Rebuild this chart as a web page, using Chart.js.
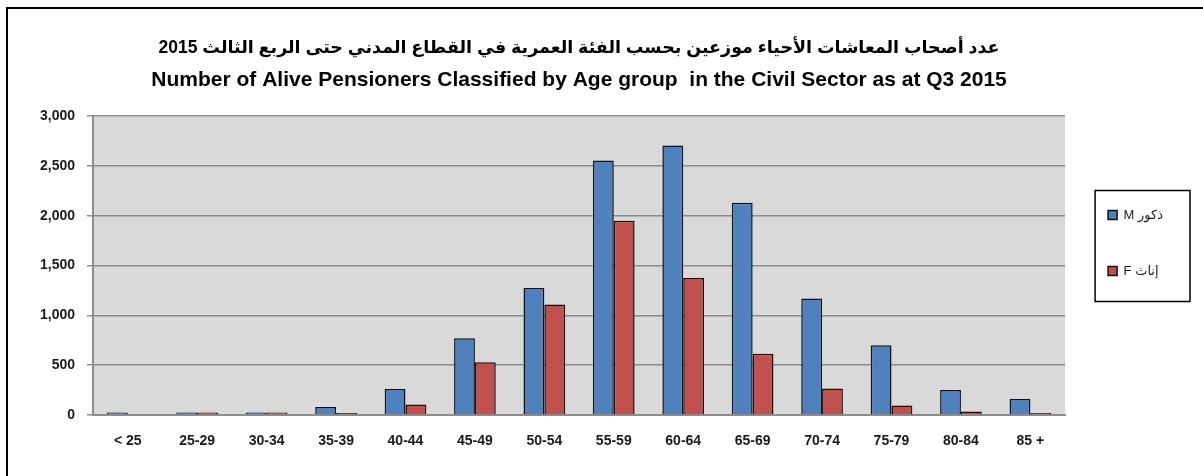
<!DOCTYPE html>
<html>
<head>
<meta charset="utf-8">
<script src="https://cdn.jsdelivr.net/npm/chart.js@4.4.1/dist/chart.umd.min.js"></script>
<style>
  html, body { margin: 0; padding: 0; background: #fff; overflow: hidden; }
  #frame {
    position: absolute; left: 6px; top: 7px;
    width: 1300px; height: 600px;
    border: 2px solid #000;
  }
  #wrap { position: absolute; left: 0; top: 0; width: 1203px; height: 476px; }
</style>
</head>
<body>
<div id="frame"></div>
<div id="wrap"><canvas id="barChart"></canvas></div>
<script>
// age groups (x axis)
const ageGroups = ['< 25', '25-29', '30-34', '35-39', '40-44', '45-49', '50-54',
  '55-59', '60-64', '65-69', '70-74', '75-79', '80-84', '85 +'];

// pensioners by gender
const maleValues = [25, 25, 25, 80, 260, 770, 1275, 2555, 2705, 2130, 1170, 700, 250, 160];
const femaleValues = [0, 25, 25, 20, 105, 530, 1110, 1950, 1375, 615, 265, 95, 35, 20];

const seriesLabels = ['M ذكور', 'F إناث'];
const titleArabic = 'عدد أصحاب المعاشات الأحياء موزعين بحسب الفئة العمرية في القطاع المدني حتى الربع الثالث 2015';
const titleEnglish = 'Number of Alive Pensioners Classified by Age group  in the Civil Sector as at Q3 2015';

// y axis range
const yMax = 3000;
const yStep = 500;

const fontFamily = '"Liberation Sans", "DejaVu Sans", Arial, sans-serif';

// grey plot background
const plotBackground = {
  id: 'plotBackground',
  beforeDraw(chart) {
    const { ctx, chartArea } = chart;
    ctx.save();
    ctx.fillStyle = '#d9d9d9';
    ctx.fillRect(chartArea.left, chartArea.top, chartArea.right - chartArea.left, chartArea.bottom - chartArea.top);
    ctx.restore();
  }
};

// frame around the legend
const legendFrame = {
  id: 'legendFrame',
  afterDraw(chart) {
    const boxes = chart.legend.legendHitBoxes;
    if (!boxes || boxes.length === 0) return;
    const left = Math.min(...boxes.map(b => b.left)) - 13;
    const right = Math.max(...boxes.map(b => b.left + b.width)) + 27;
    const top = Math.min(...boxes.map(b => b.top)) - 18;
    const bottom = Math.max(...boxes.map(b => b.top + b.height)) + 24;
    const ctx = chart.ctx;
    ctx.save();
    ctx.strokeStyle = '#000';
    ctx.lineWidth = 1.5;
    ctx.strokeRect(left, top, right - left, bottom - top);
    ctx.restore();
  }
};

const ctx = document.getElementById('barChart').getContext('2d');
new Chart(ctx, {
  type: 'bar',
  data: {
    labels: ageGroups,
    datasets: [
      {
        label: seriesLabels[0],
        data: maleValues,
        backgroundColor: '#4f81bd',
        borderColor: '#111',
        borderWidth: 1.5
      },
      {
        label: seriesLabels[1],
        data: femaleValues,
        backgroundColor: '#c0504d',
        borderColor: '#111',
        borderWidth: 1.5
      }
    ]
  },
  plugins: [plotBackground, legendFrame],
  options: {
    responsive: true,
    maintainAspectRatio: false,
    animation: false,
    layout: {
      padding: { left: 28, right: 30, top: 0, bottom: -10 }
    },
    datasets: {
      bar: { categoryPercentage: 0.6, barPercentage: 1.0 }
    },
    plugins: {
      title: {
        display: true,
        fullSize: false,
        text: titleArabic,
        color: '#000',
        font: { family: fontFamily, size: 17.5, weight: 'bold', lineHeight: 1.2 },
        padding: { top: 38, bottom: 0 }
      },
      subtitle: {
        display: true,
        fullSize: false,
        text: titleEnglish,
        color: '#000',
        font: { family: fontFamily, size: 21, weight: 'bold', lineHeight: 1.2 },
        padding: { top: 9, bottom: 23 }
      },
      legend: {
        display: true,
        position: 'right',
        labels: {
          color: '#1a1a1a',
          boxWidth: 9,
          boxHeight: 9,
          padding: 43,
          font: { family: fontFamily, size: 13 }
        }
      },
      tooltip: { enabled: false }
    },
    scales: {
      x: {
        grid: { display: false, drawTicks: false },
        border: { display: true, color: '#8c8c8c', width: 2 },
        afterFit(scale) {
          scale.height = 71;
        },
        ticks: {
          color: '#1a1a1a',
          padding: 18,
          maxRotation: 0,
          autoSkip: false,
          font: { family: fontFamily, size: 14, weight: 'bold' }
        }
      },
      y: {
        min: 0,
        max: yMax,
        grid: {
          color: '#8c8c8c',
          lineWidth: 1.5,
          drawTicks: true,
          tickLength: 6
        },
        border: { display: true, color: '#8c8c8c', width: 2 },
        ticks: {
          stepSize: yStep,
          color: '#1a1a1a',
          padding: 12,
          font: { family: fontFamily, size: 14, weight: 'bold' }
        }
      }
    }
  }
});
</script>
</body>
</html>
